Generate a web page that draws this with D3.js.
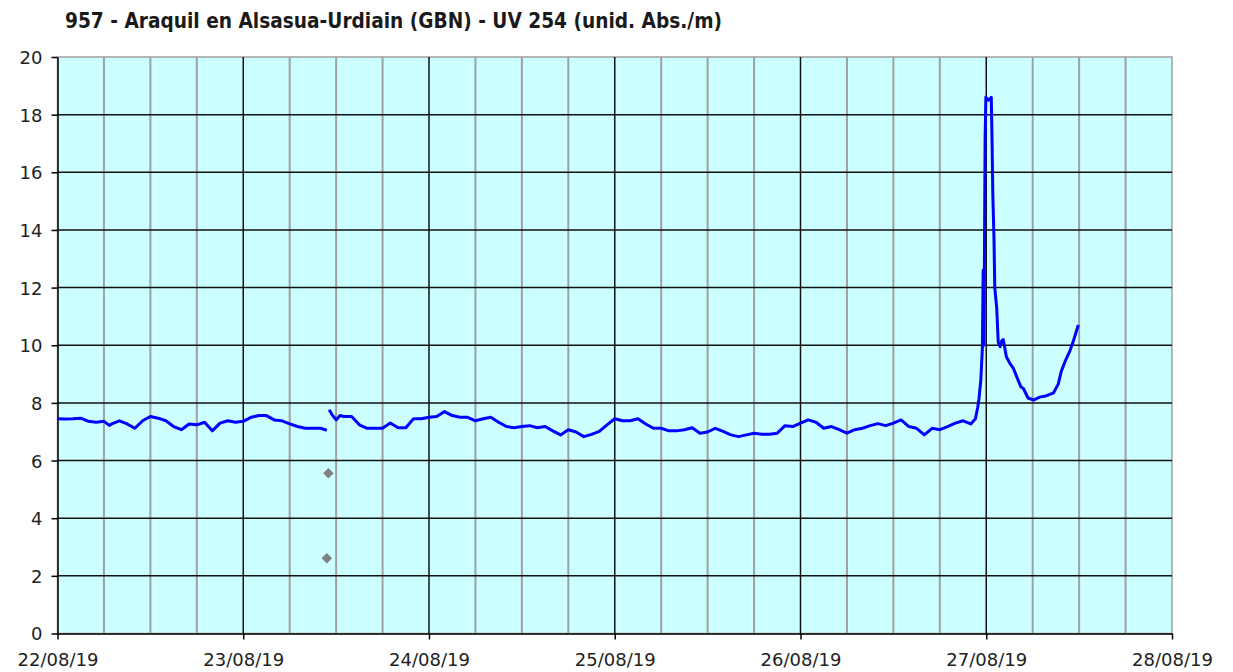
<!DOCTYPE html>
<html>
<head>
<meta charset="utf-8">
<script src="https://cdn.jsdelivr.net/npm/d3@7"></script>
<style>
  body { margin: 0; background: #fff; }
  text { font-family: "DejaVu Sans", Verdana, sans-serif; }
</style>
</head>
<body>
<script>
// hours since 22/08/19 00:00 and UV 254 readings (null = gap in record)
var hours = [0,1,2,3,4,5,6,6.7,7,8,9,10,11,12,13,14,15,16,17,18,19,20,21,22,23,
  24,25,26,27,28,29,30,31,32,33,34,34.8,35.0,35.1,35.4,36,36.5,37,38,39,40,41,42,43,44,45,46,47,
  48,49,50,51,52,53,54,55,56,57,58,59,60,61,62,63,64,65,66,67,68,69,70,71,
  72,73,74,75,76,77,78,79,80,81,82,83,84,85,86,87,88,89,90,91,92,93,94,95,
  96,97,98,99,100,101,102,103,104,105,106,107,108,109,110,111,112,113,114,115,116,117,118,118.6,118.9,119.05,119.3,119.5,
  119.6,119.7,119.85,119.95,120.3,120.65,120.75,120.85,121.0,121.1,121.35,121.55,121.8,122.0,122.2,122.6,
  123.1,123.5,124.1,124.5,124.8,125.4,126.1,126.9,127.8,128.7,129.3,129.7,130.2,130.8,131.2,131.6,131.9];
var uv = [7.45,7.44,7.45,7.47,7.36,7.33,7.36,7.22,7.27,7.38,7.27,7.12,7.38,7.53,7.47,7.38,7.18,7.07,7.27,7.24,7.33,7.03,7.30,7.38,7.33,
  7.36,7.50,7.56,7.56,7.41,7.38,7.27,7.18,7.12,7.12,7.12,7.05,null,7.76,7.62,7.41,7.56,7.53,7.53,7.24,7.12,7.12,7.12,7.30,7.14,7.14,7.45,7.45,
  7.50,7.53,7.70,7.56,7.50,7.50,7.38,7.45,7.50,7.33,7.18,7.14,7.18,7.21,7.14,7.18,7.03,6.89,7.07,6.99,6.83,6.91,7.01,7.24,
  7.45,7.38,7.38,7.45,7.27,7.12,7.12,7.03,7.03,7.07,7.14,6.95,6.99,7.12,7.01,6.89,6.83,6.89,6.95,6.91,6.91,6.95,7.21,7.18,
  7.30,7.41,7.33,7.12,7.18,7.07,6.95,7.07,7.12,7.21,7.28,7.21,7.30,7.41,7.18,7.12,6.89,7.12,7.07,7.18,7.30,7.38,7.27,7.45,7.85,8.12,8.8,9.9,
  12.6,10.0,17.1,18.6,18.5,18.6,17.1,15.2,13.7,12.0,11.3,10.1,9.95,10.15,10.2,9.6,
  9.35,9.2,8.8,8.55,8.5,8.17,8.1,8.2,8.25,8.35,8.65,9.1,9.45,9.8,10.1,10.45,10.7];

// isolated readings shown as grey diamonds
var pointHours = [34.8, 35.0];
var pointValues = [2.61, 5.56];

var yTicks = [0, 2, 4, 6, 8, 10, 12, 14, 16, 18, 20];
var title = "957 - Araquil en Alsasua-Urdiain (GBN) - UV 254 (unid. Abs./m)";

var width = 1233, height = 672;
var margin = {top: 57, right: 61, bottom: 38.5, left: 57.5};
var start = new Date(2019, 7, 22), end = new Date(2019, 7, 28);

var x = d3.scaleTime()
    .domain([start, end])
    .range([margin.left, width - margin.right]);
var y = d3.scaleLinear()
    .domain([0, 20])
    .range([height - margin.bottom, margin.top]);

var series = hours.map(function(h, i) { return {t: d3.timeMinute.offset(start, Math.round(h * 60)), v: uv[i]}; });
var points = pointHours.map(function(h, i) { return {t: d3.timeMinute.offset(start, Math.round(h * 60)), v: pointValues[i]}; });

var svg = d3.select("body").append("svg")
    .attr("width", width)
    .attr("height", height);

svg.append("text")
    .attr("x", 65)
    .attr("y", 28)
    .attr("font-size", 21)
    .attr("font-weight", "bold")
    .attr("fill", "#1a1a1a")
    .attr("textLength", 657)
    .attr("lengthAdjust", "spacingAndGlyphs")
    .text(title);

// plot background
svg.append("rect")
    .attr("x", margin.left)
    .attr("y", margin.top)
    .attr("width", width - margin.left - margin.right)
    .attr("height", height - margin.top - margin.bottom)
    .attr("fill", "#ccffff")
    .attr("stroke", "#a0a0a0")
    .attr("stroke-width", 1.5);

// six-hourly grid (grey), daily grid (black)
var sixHours = d3.timeHour.every(6).range(start, end).filter(function(d) { return d.getHours() !== 0; });
svg.append("g").selectAll("line")
  .data(sixHours)
  .join("line")
    .attr("x1", d => x(d)).attr("x2", d => x(d))
    .attr("y1", y(0)).attr("y2", y(20))
    .attr("stroke", "#a0a0a0")
    .attr("stroke-width", 2);

svg.append("g").selectAll("line")
  .data(d3.timeDay.range(d3.timeDay.offset(start, 1), end))
  .join("line")
    .attr("x1", d => x(d)).attr("x2", d => x(d))
    .attr("y1", y(0)).attr("y2", y(20))
    .attr("stroke", "#111")
    .attr("stroke-width", 1.5);

svg.append("g").selectAll("line")
  .data(yTicks.slice(1, -1))
  .join("line")
    .attr("x1", x(start)).attr("x2", x(end))
    .attr("y1", d => y(d)).attr("y2", d => y(d))
    .attr("stroke", "#111")
    .attr("stroke-width", 1.5);

// axes
var yAxis = svg.append("g")
    .attr("transform", `translate(${margin.left},0)`)
    .call(d3.axisLeft(y).tickValues(yTicks).tickSize(6).tickPadding(9).tickSizeOuter(0));
var xAxis = svg.append("g")
    .attr("transform", `translate(0,${height - margin.bottom})`)
    .call(d3.axisBottom(x).ticks(d3.timeDay.every(1)).tickFormat(d3.timeFormat("%d/%m/%y"))
      .tickSize(6).tickPadding(9).tickSizeOuter(0));

[yAxis, xAxis].forEach(function(g) {
  g.select(".domain").attr("stroke", "#000").attr("stroke-width", 1.5);
  g.selectAll(".tick line").attr("stroke", "#000").attr("stroke-width", 1.5);
  g.selectAll(".tick text")
    .attr("font-size", 18)
    .attr("font-family", "DejaVu Sans, Verdana, sans-serif")
    .attr("fill", "#222");
});
yAxis.selectAll(".tick text").attr("dy", "0.36em");
xAxis.selectAll(".tick text").attr("dy", "0.95em");

// data line
var line = d3.line()
    .defined(d => d.v != null)
    .x(d => x(d.t))
    .y(d => y(d.v));

svg.append("path")
    .datum(series)
    .attr("fill", "none")
    .attr("stroke", "#0000ff")
    .attr("stroke-width", 3)
    .attr("stroke-linejoin", "round")
    .attr("d", line);

svg.append("g").selectAll("path")
  .data(points)
  .join("path")
    .attr("transform", d => `translate(${x(d.t)},${y(d.v)})`)
    .attr("d", d3.symbol(d3.symbolDiamond2, 70))
    .attr("fill", "#808080");
</script>
</body>
</html>
